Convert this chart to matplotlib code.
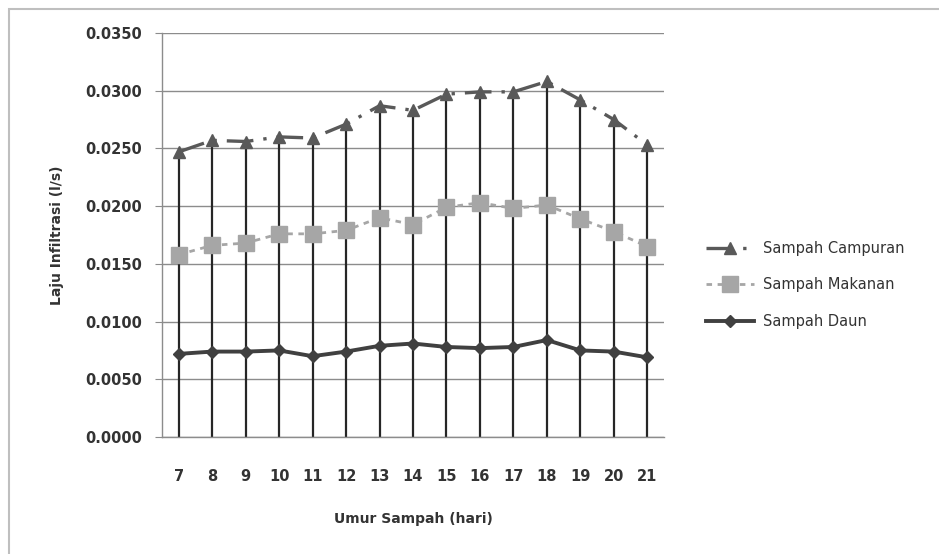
import matplotlib.pyplot as plt
import matplotlib as mpl
from matplotlib.patches import Rectangle
import numpy as np

# data
umur = [7, 8, 9, 10, 11, 12, 13, 14, 15, 16, 17, 18, 19, 20, 21]
campuran = [0.0247, 0.0257, 0.0256, 0.0260, 0.0259, 0.0271, 0.0287, 0.0283,
            0.0297, 0.0299, 0.0299, 0.0308, 0.0292, 0.0275, 0.0253]
makanan = [0.0158, 0.0166, 0.0168, 0.0176, 0.0176, 0.0179, 0.0190, 0.0184,
           0.0199, 0.0203, 0.0198, 0.0201, 0.0189, 0.0178, 0.0165]
daun = [0.0072, 0.0074, 0.0074, 0.0075, 0.0070, 0.0074, 0.0079, 0.0081,
        0.0078, 0.0077, 0.0078, 0.0084, 0.0075, 0.0074, 0.0069]
y_ticks = [0.0, 0.005, 0.010, 0.015, 0.020, 0.025, 0.030, 0.035]

mpl.rcParams['font.family'] = ['DejaVu Sans']
text_col = '#333333'

fig = plt.figure(figsize=(9.39, 5.54), dpi=100)
W, H = 939, 554

# outer chart border (cropped on the right and bottom)
fig.patches.append(Rectangle((9 / W, -0.05), 1.2, 1 - 9 / H + 0.05,
                             transform=fig.transFigure, fill=False,
                             edgecolor='#BFBFBF', linewidth=1.5))

ax = fig.add_axes([162 / W, (H - 437) / H, 502 / W, 404 / H])

# drop lines to the axis
top = np.max([campuran, makanan, daun], axis=0)
ax.vlines(umur, 0, top, color='#262626', linewidth=1.6, zorder=2)

ax.plot(umur, campuran, color='#595959', linewidth=2.4,
        linestyle=(0, (8, 3, 1, 3)), marker='^', markersize=9,
        markerfacecolor='#595959', markeredgecolor='#595959',
        label='Sampah Campuran', zorder=3)
ax.plot(umur, makanan, color='#A6A6A6', linewidth=2.0,
        linestyle=(0, (2, 2)), marker='s', markersize=11,
        markerfacecolor='#A6A6A6', markeredgecolor='#A6A6A6',
        label='Sampah Makanan', zorder=3)
ax.plot(umur, daun, color='#404040', linewidth=2.8, linestyle='-',
        marker='D', markersize=6, markerfacecolor='#404040',
        markeredgecolor='#404040', label='Sampah Daun', zorder=4)

ax.set_xlim(6.5, 21.5)
ax.set_ylim(0, 0.035)
ax.set_xticks(umur)
ax.set_xticklabels([str(u) for u in umur])
ax.set_yticks(y_ticks)
ax.set_yticklabels(['%.4f' % v for v in y_ticks])

ax.grid(True, axis='y', color='#8C8C8C', linewidth=1.0, zorder=0)
ax.set_axisbelow(True)
for side in ['top', 'right']:
    ax.spines[side].set_visible(False)
for side in ['left', 'bottom']:
    ax.spines[side].set_color('#8C8C8C')
    ax.spines[side].set_linewidth(1.0)

ax.tick_params(axis='y', length=5, color='#8C8C8C', pad=9.5,
               labelsize=10.5, labelcolor=text_col)
ax.tick_params(axis='x', length=0, pad=23, labelsize=10.5,
               labelcolor=text_col)
for lbl in ax.get_xticklabels() + ax.get_yticklabels():
    lbl.set_fontweight('bold')

ax.set_xlabel('Umur Sampah (hari)', fontsize=10, fontweight='bold',
              color=text_col, labelpad=20)
ax.set_ylabel('Laju Infiltrasi (l/s)', fontsize=10, fontweight='bold',
              color=text_col, labelpad=15)

leg = fig.legend(loc='center left', bbox_to_anchor=(693 / W, (H - 285) / H),
                 frameon=False, fontsize=10.5, handlelength=3.3,
                 labelspacing=1.5, handletextpad=0.6)
for t in leg.get_texts():
    t.set_color(text_col)

plt.savefig('out.png', dpi=100)
plt.close()
